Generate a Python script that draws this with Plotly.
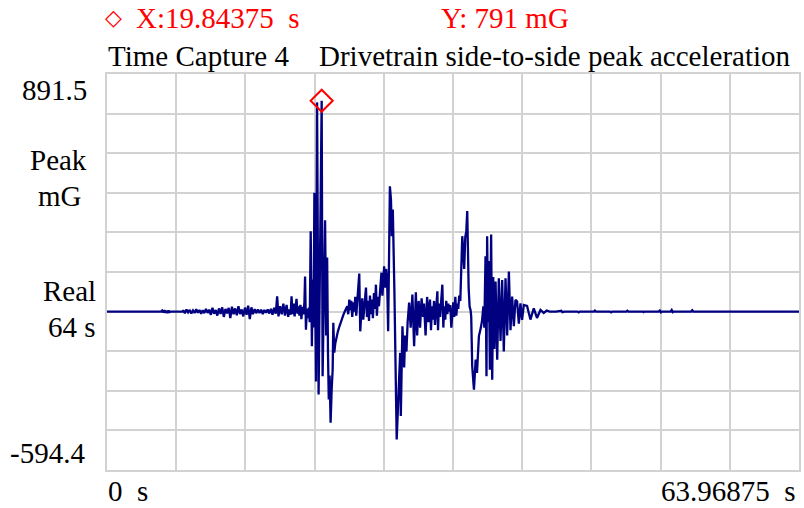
import plotly.graph_objects as go

# ---------------- data ----------------
time_s = [
    0.0, 5.0, 5.1, 5.2, 5.3, 5.4, 5.5, 5.6, 5.7, 5.8, 5.9, 7.0,
    7.05, 7.2, 7.35, 7.5, 7.65, 7.8, 7.95, 8.1, 8.25, 8.4, 8.55, 8.7, 8.85, 9.0,
    9.15, 9.3, 9.45, 9.6, 9.75, 9.9, 10.05, 10.2, 10.35, 10.5, 10.65, 10.8, 10.95,
    11.1, 11.25, 11.4, 11.55, 11.7, 11.85, 12.0, 12.15, 12.3, 12.45, 12.6, 12.75,
    12.9, 13.05, 13.2, 13.35, 13.5, 13.65, 13.8, 13.95, 14.1, 14.25, 14.4, 14.55,
    14.7, 14.85, 15.0, 15.15, 15.3, 15.45, 15.6, 15.73, 15.85, 16.0, 16.15, 16.3,
    16.45, 16.6, 16.75,
    16.87, 16.97, 17.06, 17.15, 17.25, 17.34, 17.43, 17.52, 17.61, 17.70, 17.79,
    17.88, 17.97, 18.06, 18.16, 18.25, 18.31, 18.39, 18.48, 18.57, 18.66, 18.74,
    18.83, 18.94, 19.02, 19.10, 19.17, 19.32, 19.42, 19.56, 19.84375, 19.93,
    20.05, 20.16, 20.26, 20.35, 20.43, 20.50, 20.58, 20.67, 20.77, 20.86, 20.92,
    21.01, 21.10, 21.20, 21.34, 21.48, 21.66, 21.85, 22.03, 22.21, 22.30, 22.40,
    22.49, 22.58, 22.67, 22.77, 22.86, 22.95, 23.04, 23.13, 23.32, 23.41, 23.50,
    23.59, 23.69, 23.94, 24.03, 24.12, 24.22, 24.31, 24.40, 24.49, 24.58, 24.68,
    24.77, 24.86, 24.95, 25.04, 25.14, 25.23, 25.37, 25.46, 25.55, 25.62, 25.71,
    25.80, 25.90, 25.99, 26.15, 26.25, 26.33, 26.42, 26.57, 26.66, 26.78, 27.10,
    27.16, 27.31, 27.47, 27.56, 27.68, 27.79, 27.93, 28.07, 28.23, 28.39, 28.55,
    28.67, 28.81, 28.94, 29.08, 29.22, 29.31, 29.45, 29.59, 29.72, 29.86, 29.95,
    30.05, 30.14, 30.23, 30.32, 30.42, 30.54, 30.60, 30.69, 30.79, 30.88, 31.00,
    31.09, 31.18, 31.27, 31.36, 31.46, 31.55, 31.64, 31.73, 31.83, 31.92, 32.01,
    32.10, 32.20, 32.29, 32.38, 32.47, 32.56, 32.66, 32.75, 32.84, 32.93, 33.02,
    33.12, 33.21, 33.30, 33.37, 33.43, 33.52, 33.61, 33.67, 33.76, 33.92, 34.08,
    34.20, 34.38, 34.56, 34.68, 34.79, 34.88, 34.99, 35.08, 35.14, 35.23, 35.30,
    35.39, 35.51, 35.61, 35.70, 35.81, 35.92, 36.07, 36.22, 36.38, 36.53, 36.68,
    36.84, 36.99, 37.15, 37.30, 37.45, 37.61, 37.76, 37.91, 38.07, 38.22, 38.37,
    38.53, 38.83, 39.14, 39.45, 39.75, 40.07, 40.37, 40.65, 40.92,
    41.5, 42.0, 42.1, 42.3, 43.5, 43.6, 43.7, 45.0, 45.1, 45.2, 46.5, 46.6, 46.7,
    48.0, 48.1, 48.2, 49.5, 49.6, 49.7, 51.0, 51.1, 51.2, 51.3, 52.1, 52.2, 52.3,
    52.4, 54.0, 54.1, 54.2, 63.96875,
]

accel_mg = [
    0, 0, 4, -3, 5, -4, 3, -5, 4, -2, 0, 0,
    5, -6, 8, -3, 6, -7, 4, -5, 9, -4, 6, -8, 5, -6,
    10, -5, 7, -12, 14, -8, 6, -15, 12, -9, 16, -20, 10,
    -7, 14, -24, 18, -10, 12, -14, 20, -9, 8, -18, 15,
    -12, 22, -28, 16, -10, 9, -6, 8, -5, 7, -9, 6,
    -4, 8, -7, 10, -12, 14, -8, 57, -18, 20, -10, 30,
    -15, 25, -20,
    8, -12, 57, -10, 30, -18, 15, 48, -8, 20, -15,
    25, -28, 18, -10, 35, 132, -68, 10, -25, 15, -40,
    301, -130, 120, -60, 446, -262, 785, -311, 791, -243,
    60, 343, -90, 203, -160, -330, -240, -417, -290, -218, -42,
    -154, -120, -95, -75, -56, -30, -12, 5, 20, -10, 45,
    5, 40, -20, 35, 0, 55, -15, 30, 143, -74, 20,
    50, -30, 90, -20, 40, -35, 60, -10, 45, -25, 70,
    10, 101, -15, 55, 20, 80, 146, 60, 130, 170, 90,
    160, 110, -74, 470, 420, 283, 383, 71, -117, -480, -155,
    -392, -55, -210, -90, -150, -40, 34, -60, 64, -130, 72,
    -90, 40, -60, 50, -20, 30, -90, 55, -40, 45, -70,
    20, -30, 40, -50, 15, 76, -70, 30, -20, 50, 101,
    -60, 20, -30, 40, -10, 30, 0, 25, -60, 10, 35,
    -20, 55, -15, 30, 10, 60, 40, 150, 283, 230, 160,
    280, 300, 377, 200, 90, 19, 5, -20, -205, -293, -180,
    -230, -92, -60, -31, 20, -60, 208, -243, 283, -40, 190,
    -218, 289, -256, 130, -140, 113, -181, 125, -110, 118, -150,
    125, -90, 150, -70, 56, -55, 44, 38, -45, 31, -31,
    25, 21, -30, 12, -24, 6, -5, 4, 0,
    0, 3, -2, 0, 0, -3, 0, 0, 4, 0, 0, -3, 0,
    0, 3, 0, 0, -2, 0, 0, 4, -3, 0, 0, 6, -2,
    0, 0, 5, 0, 0,
]

peak_time = [19.84375]
peak_value = [791]

x_min, x_max = 0.0, 63.96875
y_min, y_max = -594.4, 891.5
n_div = 10

title_left = "Time Capture 4"
title_right = "Drivetrain side-to-side peak acceleration"
cursor_x_text = "X:19.84375  s"
cursor_y_text = "Y: 791 mG"
y_top_label = "891.5"
y_bottom_label = "-594.4"
y_unit_labels = ["Peak", "mG"]
y_mode_labels = ["Real", "64 s"]
x_left_label = "0  s"
x_right_label = "63.96875  s"

# ---------------- figure ----------------
W, H = 804, 508
L, R, T, B = 107, 3, 74, 38
PW, PH = W - L - R, H - T - B

def px(x):
    return (x - L) / PW

def py(y):
    return (H - B - y) / PH

FONT = "Liberation Serif, Times New Roman, serif"
FS = 29
GRID = "#d2d2d2"

fig = go.Figure()
fig.add_trace(go.Scatter(
    x=time_s, y=accel_mg, mode="lines",
    line=dict(color="#000080", width=2.3),
    hoverinfo="skip", showlegend=False,
))
fig.add_trace(go.Scatter(
    x=peak_time, y=peak_value, mode="markers",
    marker=dict(symbol="diamond-open", size=17, color="#ff0000",
                line=dict(color="#ff0000", width=2)),
    hoverinfo="skip", showlegend=False,
))

xt = [x_min + (x_max - x_min) * i / n_div for i in range(n_div + 1)]
yt = [y_min + (y_max - y_min) * i / n_div for i in range(n_div + 1)]

fig.update_xaxes(range=[x_min, x_max], tickvals=xt, showticklabels=False,
                 showgrid=True, gridcolor=GRID, gridwidth=1.5, zeroline=False,
                 showline=True, linecolor=GRID, linewidth=2, mirror=True, ticks="")
fig.update_yaxes(range=[y_min, y_max], tickvals=yt, showticklabels=False,
                 showgrid=True, gridcolor=GRID, gridwidth=2, zeroline=False,
                 showline=True, linecolor=GRID, linewidth=2, mirror=True, ticks="")

anns = []
def txt(text, x, y, xanchor="left", color="black", size=FS):
    anns.append(dict(text=text, x=px(x), y=py(y), xref="paper", yref="paper",
                     xanchor=xanchor, yanchor="middle", showarrow=False,
                     font=dict(family=FONT, size=size, color=color)))

txt("◇", 103, 18, color="#ff0000", size=22)
txt(cursor_x_text, 134, 18, color="#ff0000")
txt(cursor_y_text, 440, 18, color="#ff0000")
txt(title_left, 106, 56)
txt(title_right, 318, 56)
txt(y_top_label, 89, 90, xanchor="right")
txt(y_unit_labels[0], 89, 160, xanchor="right")
txt(y_unit_labels[1], 84, 196, xanchor="right")
txt(y_mode_labels[0], 98, 291, xanchor="right")
txt(y_mode_labels[1], 98, 327, xanchor="right")
txt(y_bottom_label, 87, 453, xanchor="right")
txt(x_left_label, 106, 491)
txt(x_right_label, 800, 491, xanchor="right")

fig.update_layout(
    width=W, height=H, autosize=False,
    margin=dict(l=L, r=R, t=T, b=B, pad=0),
    paper_bgcolor="white", plot_bgcolor="white",
    annotations=anns, showlegend=False,
)

fig.write_html("out.html", config={"displayModeBar": False},
               post_script="document.body.style.margin='0px';document.body.style.overflow='hidden';")
